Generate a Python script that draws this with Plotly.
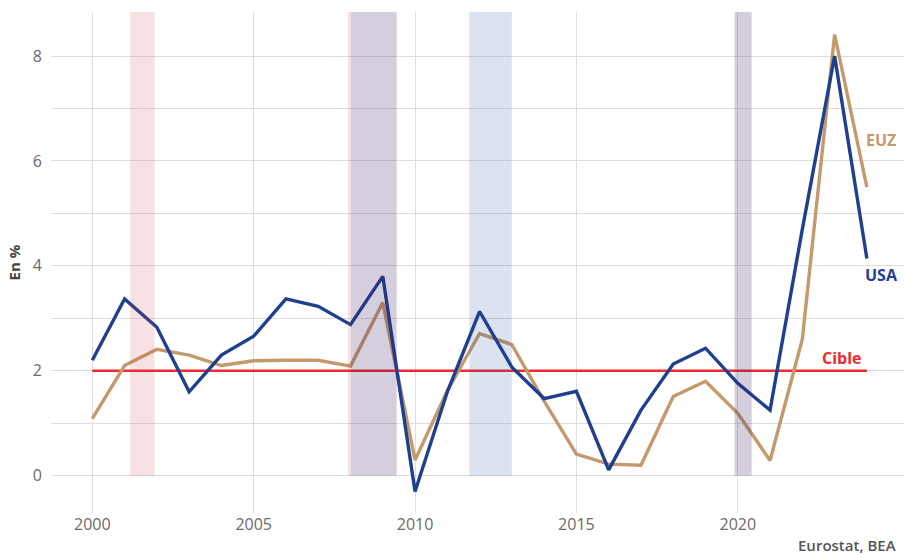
import plotly.graph_objects as go

years = list(range(2000, 2025))
usa = [2.2, 3.37, 2.83, 1.6, 2.3, 2.66, 3.37, 3.23, 2.88, 3.8, -0.3, 1.6, 3.13, 2.07,
       1.47, 1.61, 0.11, 1.25, 2.13, 2.43, 1.76, 1.25, 4.7, 8.0, 4.14]
euz = [1.09, 2.1, 2.41, 2.3, 2.1, 2.19, 2.2, 2.2, 2.09, 3.3, 0.3, 1.62, 2.71, 2.5,
       1.42, 0.41, 0.22, 0.2, 1.51, 1.8, 1.19, 0.29, 2.6, 8.41, 5.5]
cible_x = [2000, 2024]
cible_y = [2.0, 2.0]

# recession periods: (start, end, kind)
recessions = [
    (2001.17, 2001.93, "us"),
    (2007.92, 2008.01, "us"),
    (2008.01, 2009.43, "both"),
    (2011.68, 2013.0, "ez"),
    (2019.9, 2020.43, "both"),
]
band_colors = {
    "us": "rgba(200,60,70,0.15)",
    "ez": "rgba(40,80,160,0.16)",
    "both": "rgba(60,30,100,0.22)",
}

C_USA = "#1F3F8F"
C_EUZ = "#C4996C"
C_RED = "#EE2A2F"
GRID = "#DEDEDE"
FONT = "Open Sans"

fig = go.Figure()
fig.add_trace(go.Scatter(x=cible_x, y=cible_y, mode="lines",
                         line=dict(color=C_RED, width=2.4), name="Cible"))
fig.add_trace(go.Scatter(x=years, y=euz, mode="lines",
                         line=dict(color=C_EUZ, width=3.4), name="EUZ"))
fig.add_trace(go.Scatter(x=years, y=usa, mode="lines",
                         line=dict(color=C_USA, width=3.4), name="USA"))

Y0, Y1 = -0.711, 8.839
for s, e, k in recessions:
    fig.add_shape(type="rect", xref="x", yref="y", x0=s, x1=e, y0=0, y1=Y1,
                  fillcolor=band_colors[k], line=dict(width=0), layer="above")

fig.add_annotation(x=2024.44, y=6.4, text="<b>EUZ</b>", showarrow=False,
                   font=dict(family=FONT, size=16, color=C_EUZ))
fig.add_annotation(x=2024.44, y=3.83, text="<b>USA</b>", showarrow=False,
                   font=dict(family=FONT, size=16, color=C_USA))
fig.add_annotation(x=2023.23, y=2.25, text="<b>Cible</b>", showarrow=False,
                   font=dict(family=FONT, size=16, color=C_RED))

fig.add_annotation(xref="paper", yref="paper", x=0, y=0.5, xshift=-38,
                   text="<b>En %</b>", textangle=-90, showarrow=False,
                   xanchor="center", yanchor="middle",
                   font=dict(family=FONT, size=15, color="#444444"))
fig.add_annotation(xref="paper", yref="paper", x=1, y=0, xshift=-6, yshift=-32,
                   text="Eurostat, BEA", showarrow=False,
                   xanchor="right", yanchor="middle",
                   font=dict(family=FONT, size=15, color="#555555", weight=600))

fig.update_layout(
    width=904, height=555,
    margin=dict(l=51, r=0, t=12, b=42),
    paper_bgcolor="white", plot_bgcolor="white",
    showlegend=False,
    font=dict(family=FONT),
    xaxis=dict(range=[1998.72, 2025.15], tickvals=[2000, 2005, 2010, 2015, 2020],
               showgrid=True, gridcolor=GRID, gridwidth=1.2, zeroline=False,
               showline=False, tickfont=dict(size=16, color="#6B6B6B")),
    yaxis=dict(range=[Y0, Y1], tickvals=[0, 2, 4, 6, 8],
               showgrid=True, gridcolor=GRID, gridwidth=1.2, zeroline=False,
               showline=False, ticklabelstandoff=8,
               minor=dict(dtick=1, showgrid=True, gridcolor=GRID, gridwidth=1.2),
               tickfont=dict(size=16, color="#6B6B6B")),
)

fig.write_html("out.html", config={"displayModeBar": False},
               post_script="document.body.style.margin='0';document.body.style.overflow='hidden';")
